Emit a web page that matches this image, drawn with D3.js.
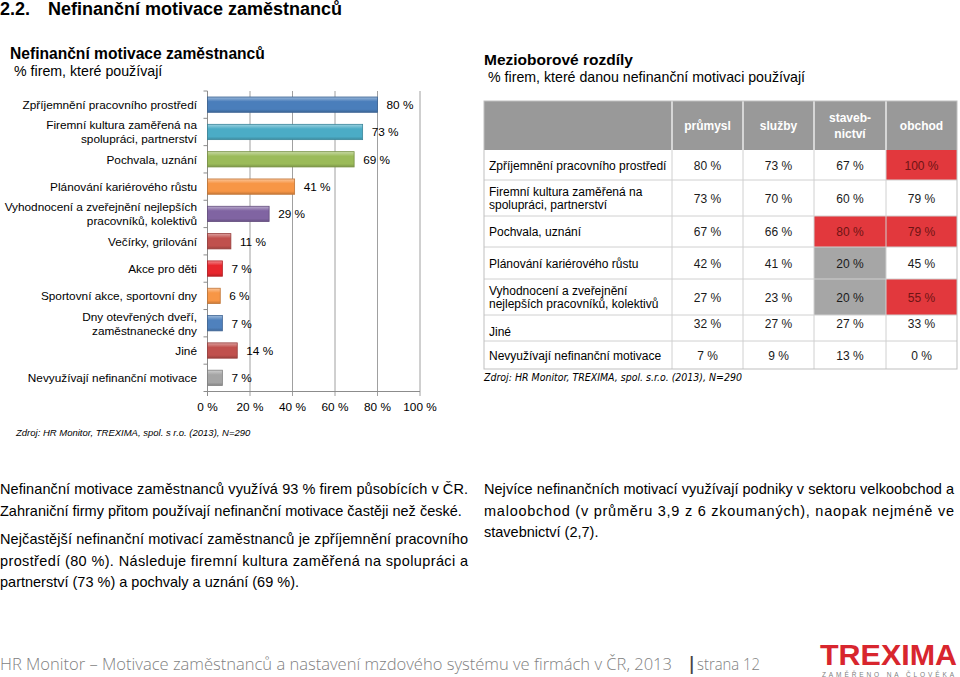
<!DOCTYPE html>
<html><head><meta charset="utf-8">
<script src="https://cdn.jsdelivr.net/npm/d3@7"></script>
<style>
body{margin:0;background:#fff;}
svg{display:block;font-family:"Liberation Sans",Arial,sans-serif;}
</style></head>
<body>
<svg id="c" width="960" height="677"></svg>
<script>
// ---------- data ----------
const categories = [
  "Zpříjemnění pracovního prostředí",
  "Firemní kultura zaměřená na\nspolupráci, partnerství",
  "Pochvala, uznání",
  "Plánování kariérového růstu",
  "Vyhodnocení a zveřejnění nejlepších\npracovníků, kolektivů",
  "Večírky, grilování",
  "Akce pro děti",
  "Sportovní akce, sportovní dny",
  "Dny otevřených dveří,\nzaměstnanecké dny",
  "Jiné",
  "Nevyužívají nefinanční motivace"
];
const values = [80, 73, 69, 41, 29, 11, 7, 6, 7, 14, 7];
const barColors = ["#4a7ebb","#4bacc6","#9bbb59","#f79646","#8064a2","#c0504d","#e8262d","#f79646","#4f81bd","#c0504d","#a5a5a5"];
const xTicks = [0, 20, 40, 60, 80, 100];

const sectors = ["průmysl", "služby", "staveb-\nnictví", "obchod"];
const tableRows = [
  "Zpříjemnění pracovního prostředí",
  "Firemní kultura zaměřená na\nspolupráci, partnerství",
  "Pochvala, uznání",
  "Plánování kariérového růstu",
  "Vyhodnocení a zveřejnění\nnejlepších pracovníků, kolektivů",
  "Jiné",
  "Nevyužívají nefinanční motivace"
];
const prumysl      = [80, 73, 67, 42, 27, 32, 7];
const sluzby       = [73, 70, 66, 41, 23, 27, 9];
const stavebnictvi = [67, 60, 80, 20, 20, 27, 13];
const obchod       = [100, 79, 79, 45, 55, 33, 0];
// highlight: "hi" = notably high, "lo" = notably low
const hlPrumysl      = ["", "", "", "", "", "", ""];
const hlSluzby       = ["", "", "", "", "", "", ""];
const hlStavebnictvi = ["", "", "hi", "lo", "lo", "", ""];
const hlObchod       = ["hi", "", "hi", "", "hi", "", ""];

// ---------- drawing ----------
const svg = d3.select("#c");
const defs = svg.append("defs");

// page heading
const h = svg.append("text").attr("x", 0).attr("y", 15).attr("font-size", 18).attr("font-weight", "bold").attr("fill", "#000");
h.append("tspan").text("2.2.");
h.append("tspan").attr("x", 48).text("Nefinanční motivace zaměstnanců");

// left chart titles
svg.append("text").attr("x", 10).attr("y", 59).attr("font-size", 15.6).attr("font-weight", "bold").text("Nefinanční motivace zaměstnanců");
svg.append("text").attr("x", 14).attr("y", 76).attr("font-size", 14.2).text("% firem, které používají");

// bar chart
const FS = 11.8;
const x = d3.scaleLinear().domain([0, 100]).range([207.5, 420]);
const y = d3.scaleBand().domain(categories).range([91, 391.5]).paddingInner(0.44).paddingOuter(0.22);
const yBand = d3.scaleBand().domain(categories).range([91, 391.5]);

const g = svg.append("g");
// gridlines
g.selectAll("line.grid").data(xTicks.filter(d => d > 0)).join("line")
  .attr("x1", d => x(d)).attr("x2", d => x(d)).attr("y1", 91).attr("y2", 396)
  .attr("stroke", "#a0a0a0").attr("stroke-width", 1);
// left axis
g.append("line").attr("x1", x(0)).attr("x2", x(0)).attr("y1", 91).attr("y2", 396).attr("stroke", "#8c8c8c");
g.selectAll("line.yt").data(categories.concat(["end"])).join("line")
  .attr("x1", x(0) - 4).attr("x2", x(0))
  .attr("y1", (d, i) => 91 + i * yBand.step()).attr("y2", (d, i) => 91 + i * yBand.step())
  .attr("stroke", "#8c8c8c");
// bottom axis
g.append("line").attr("x1", x(0)).attr("x2", x(100)).attr("y1", 391.5).attr("y2", 391.5).attr("stroke", "#8c8c8c");

// gradients
barColors.forEach((c, i) => {
  const lg = defs.append("linearGradient").attr("id", "bg" + i).attr("x1", 0).attr("x2", 0).attr("y1", 0).attr("y2", 1);
  lg.append("stop").attr("offset", 0).attr("stop-color", d3.interpolateRgb(c, "#fff")(0.45));
  lg.append("stop").attr("offset", 0.3).attr("stop-color", c);
  lg.append("stop").attr("offset", 0.8).attr("stop-color", c);
  lg.append("stop").attr("offset", 1).attr("stop-color", d3.color(c).darker(0.6));
});

g.selectAll("rect.bar").data(values).join("rect")
  .attr("x", x(0)).attr("y", (d, i) => y(categories[i]))
  .attr("width", d => x(d) - x(0)).attr("height", y.bandwidth())
  .attr("fill", (d, i) => "url(#bg" + i + ")")
  .attr("stroke", (d, i) => d3.color(barColors[i]).darker(0.7)).attr("stroke-width", 0.8);

g.selectAll("text.val").data(values).join("text")
  .attr("x", d => x(d) + 9).attr("y", (d, i) => y(categories[i]) + y.bandwidth() / 2 + 4.5)
  .attr("font-size", FS).attr("fill", "#000").text(d => d + " %");

// category labels
categories.forEach((c, i) => {
  const lines = c.split("\n");
  const cy = y(c) + y.bandwidth() / 2;
  const t = g.append("text").attr("text-anchor", "end").attr("font-size", FS).attr("fill", "#000");
  lines.forEach((l, j) => {
    t.append("tspan").attr("x", 197).attr("y", cy + 4.5 + (j - (lines.length - 1) / 2) * 14).text(l);
  });
});

// x tick labels
g.selectAll("text.xt").data(xTicks).join("text")
  .attr("x", d => x(d)).attr("y", 411).attr("text-anchor", "middle").attr("font-size", FS).text(d => d + " %");

svg.append("text").attr("x", 16).attr("y", 436).attr("font-size", 9.5).attr("font-style", "italic")
  .text("Zdroj: HR  Monitor, TREXIMA, spol. s r.o.  (2013), N=290");

// ---------- right table ----------
svg.append("text").attr("x", 484).attr("y", 65).attr("font-size", 15.5).attr("font-weight", "bold").text("Mezioborové rozdíly");
svg.append("text").attr("x", 488).attr("y", 82).attr("font-size", 14.2).text("% firem, které danou nefinanční motivaci používají");

const TFS = 12;
const colX = [484, 672, 743, 814, 886, 957];
const rowY = [101, 150, 180, 216, 247, 279, 315, 341, 369];
const cols = [prumysl, sluzby, stavebnictvi, obchod];
const hls = [hlPrumysl, hlSluzby, hlStavebnictvi, hlObchod];
const tg = svg.append("g");

// header
tg.append("rect").attr("x", colX[0]).attr("y", rowY[0]).attr("width", colX[5] - colX[0]).attr("height", rowY[1] - rowY[0]).attr("fill", "#999999");
for (let k = 1; k < 5; k++) {
  tg.append("line").attr("x1", colX[k]).attr("x2", colX[k]).attr("y1", rowY[0]).attr("y2", rowY[1]).attr("stroke", "#fff").attr("stroke-width", 1.2);
}
sectors.forEach((s, k) => {
  const lines = s.split("\n");
  const cx = (colX[k + 1] + colX[k + 2]) / 2;
  const cy = (rowY[0] + rowY[1]) / 2;
  const t = tg.append("text").attr("text-anchor", "middle").attr("font-size", TFS).attr("font-weight", "bold").attr("fill", "#fff");
  lines.forEach((l, j) => t.append("tspan").attr("x", cx).attr("y", cy + 4.5 + (j - (lines.length - 1) / 2) * 16).text(l));
});

// body cells
tableRows.forEach((r, i) => {
  const y0 = rowY[i + 1], y1 = rowY[i + 2];
  const cy = (y0 + y1) / 2;
  cols.forEach((col, k) => {
    const hl = hls[k][i];
    const fill = hl === "hi" ? "#e2383d" : hl === "lo" ? "#a6a6a6" : "#fff";
    tg.append("rect").attr("x", colX[k + 1]).attr("y", y0).attr("width", colX[k + 2] - colX[k + 1]).attr("height", y1 - y0).attr("fill", fill);
    tg.append("text").attr("x", (colX[k + 1] + colX[k + 2]) / 2).attr("y", cy + 4.5 - (i === 5 ? 5 : 0))
      .attr("text-anchor", "middle").attr("font-size", TFS)
      .attr("fill", hl === "hi" ? "#6e1414" : "#1a1a1a").text(col[i] + " %");
  });
  const lines = r.split("\n");
  const t = tg.append("text").attr("font-size", TFS).attr("fill", "#000");
  lines.forEach((l, j) => t.append("tspan").attr("x", 489).attr("y", cy + 4.5 + (j - (lines.length - 1) / 2) * 13.5 + (i === 5 ? 3 : 0)).text(l));
});
// grid lines of body
rowY.slice(2, 8).forEach(yy => tg.append("line").attr("x1", colX[0]).attr("x2", colX[5]).attr("y1", yy).attr("y2", yy).attr("stroke", "#d0d0d0"));
for (let k = 1; k < 5; k++) {
  tg.append("line").attr("x1", colX[k]).attr("x2", colX[k]).attr("y1", rowY[1]).attr("y2", rowY[8]).attr("stroke", "#d0d0d0");
}
tg.append("rect").attr("x", colX[0]).attr("y", rowY[0]).attr("width", colX[5] - colX[0]).attr("height", rowY[8] - rowY[0])
  .attr("fill", "none").attr("stroke", "#bfbfbf");

svg.append("text").attr("x", 484).attr("y", 381).attr("font-size", 11).attr("font-style", "italic")
  .attr("font-family", "'DejaVu Sans Condensed','Open Sans',sans-serif")
  .attr("textLength", 258).attr("lengthAdjust", "spacingAndGlyphs")
  .text("Zdroj: HR Monitor, TREXIMA, spol. s.r.o. (2013), N=290");

// ---------- paragraphs ----------
function para(lines, x0, width, y0, lh) {
  lines.forEach((l, i) => {
    const t = svg.append("text").attr("x", x0).attr("y", y0 + i * lh).attr("font-size", 14.5).attr("fill", "#000").text(l.text);
    if (l.justify) t.attr("textLength", width).attr("lengthAdjust", "spacing");
  });
}
para([
  {text: "Nefinanční motivace zaměstnanců využívá 93 % firem působících v ČR.", justify: true},
  {text: "Zahraniční firmy přitom používají nefinanční motivace častěji než české.", justify: false}
], 0, 468, 494, 21.5);
para([
  {text: "Nejčastější nefinanční motivací zaměstnanců je zpříjemnění pracovního", justify: true},
  {text: "prostředí (80 %). Následuje firemní kultura zaměřená na spolupráci a", justify: true},
  {text: "partnerství (73 %) a pochvaly a uznání (69 %).", justify: false}
], 0, 468, 544, 21.5);
para([
  {text: "Nejvíce nefinančních motivací využívají podniky v sektoru velkoobchod a", justify: true},
  {text: "maloobchod (v průměru 3,9 z 6 zkoumaných), naopak nejméně ve", justify: true},
  {text: "stavebnictví (2,7).", justify: false}
], 484, 470, 494, 21.5);

// ---------- footer ----------
const ffont = "'Open Sans','Liberation Sans',sans-serif";
svg.append("text").attr("x", 0).attr("y", 670).attr("font-size", 16).attr("fill", "#7f7f7f")
  .attr("font-family", ffont).attr("font-weight", 300)
  .attr("textLength", 672).attr("lengthAdjust", "spacingAndGlyphs")
  .text("HR Monitor – Motivace zaměstnanců a nastavení mzdového systému ve firmách v ČR, 2013");
svg.append("text").attr("x", 687).attr("y", 670).attr("font-size", 17).attr("fill", "#444")
  .attr("font-family", ffont).attr("font-weight", "bold").text("|");
svg.append("text").attr("x", 697).attr("y", 670).attr("font-size", 16.5).attr("fill", "#7f7f7f")
  .attr("font-family", ffont).attr("font-weight", 300)
  .attr("textLength", 63).attr("lengthAdjust", "spacingAndGlyphs").text("strana 12");

svg.append("text").attr("x", 820).attr("y", 665).attr("font-size", 30).attr("font-weight", "bold").attr("fill", "#d8262e")
  .attr("font-family", "'Liberation Sans',Arial,sans-serif").attr("textLength", 137).attr("lengthAdjust", "spacingAndGlyphs").text("TREXIMA");
svg.append("text").attr("x", 822).attr("y", 677).attr("font-size", 6.5).attr("fill", "#808080")
  .attr("textLength", 132).attr("lengthAdjust", "spacing").text("ZAMĚŘENO NA ČLOVĚKA");
</script>
</body></html>
